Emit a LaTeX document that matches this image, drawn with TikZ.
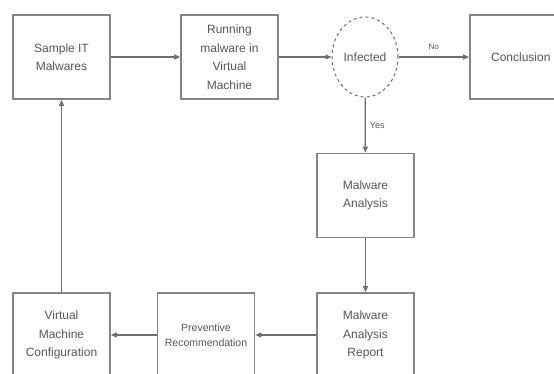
\documentclass[tikz,border=0pt]{standalone}
\usepackage{fontspec}
\setmainfont{Liberation Sans}
\usetikzlibrary{arrows.meta,shapes.geometric}
\definecolor{boxline}{HTML}{858585}
\definecolor{arrline}{HTML}{6E6E6E}
\definecolor{txt}{HTML}{555555}
\begin{document}
\begin{tikzpicture}[x=1pt,y=-1pt,
  stepbox/.style={draw=boxline,line width=1.6pt,minimum width=97pt,minimum height=84pt,
    inner sep=0pt,align=center,text=txt,font=\fontsize{12}{18.5}\selectfont},
  smallbox/.style={stepbox,font=\fontsize{10.5}{15}\selectfont},
  decision/.style={draw=arrline,dashed,line width=1pt,ellipse,minimum width=66pt,minimum height=80pt,
    inner sep=0pt,text=txt,font=\fontsize{12}{14}\selectfont},
  conn/.style={draw=arrline,line width=1.3pt,-{Triangle[length=6pt,width=5pt]}},
  lbl/.style={text=txt,font=\fontsize{8}{9}\selectfont,inner sep=1pt}]
\useasboundingbox (0,0) rectangle (554,373);
\clip (0,0) rectangle (554,373);
\node[stepbox] (sample) at (61.5,57) {Sample IT\\Malwares};
\node[stepbox] (run) at (229.5,57) {Running\\malware in\\Virtual\\Machine};
\node[decision] (inf) at (365,57) {Infected};
\node[stepbox,minimum width=110pt,anchor=west,text width=106pt] (conc) at (469,57) {\hspace*{-8pt}Conclusion};
\node[stepbox] (ana) at (365.5,195.5) {Malware\\Analysis};
\node[stepbox] (rep) at (365.5,335) {Malware\\Analysis\\Report};
\node[smallbox] (prev) at (206,335) {Preventive\\Recommendation};
\node[stepbox] (vm) at (61.5,335) {Virtual\\Machine\\Configuration};
\draw[conn] (sample) -- (run);
\draw[conn] (run) -- (inf);
\draw[conn] (inf) -- (conc.west) node[lbl,midway,above=6pt] {No};
\draw[conn] (inf) -- (ana) node[lbl,midway,right=3pt,font=\fontsize{9}{10}\selectfont] {Yes};
\draw[conn] (ana) -- (rep);
\draw[conn] (rep) -- (prev);
\draw[conn] (prev) -- (vm);
\draw[conn] (vm) -- (sample);
\end{tikzpicture}
\end{document}
